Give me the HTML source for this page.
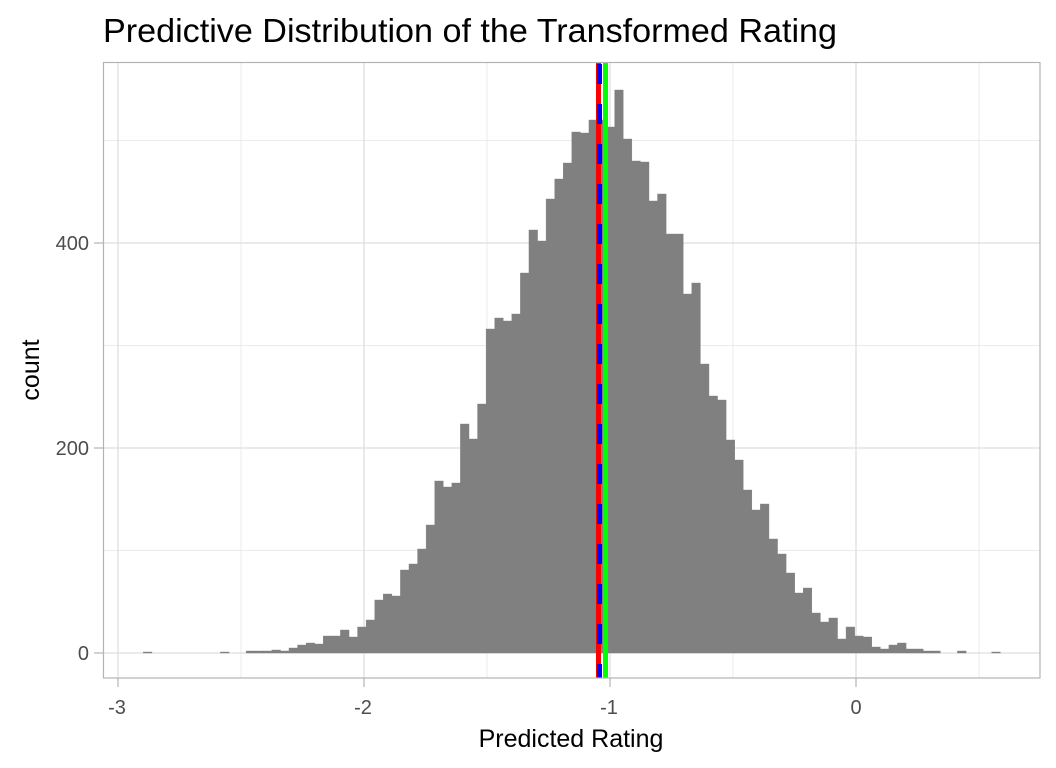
<!DOCTYPE html>
<html><head><meta charset="utf-8"><style>
html,body{margin:0;padding:0;background:#fff;}
svg{display:block;font-family:"Liberation Sans",Arial,sans-serif;}
</style></head><body>
<svg width="1056" height="768" viewBox="0 0 1056 768" xmlns="http://www.w3.org/2000/svg">
<rect width="1056" height="768" fill="#fff"/>
<text x="103" y="42" font-size="33" fill="#000" textLength="734" lengthAdjust="spacingAndGlyphs">Predictive Distribution of the Transformed Rating</text>
<g stroke="#ebebeb" stroke-width="1">
<line x1="103" x2="1040" y1="550.5" y2="550.5"/><line x1="103" x2="1040" y1="345.5" y2="345.5"/><line x1="103" x2="1040" y1="140.5" y2="140.5"/>
<line x1="241" x2="241" y1="62" y2="678"/><line x1="487" x2="487" y1="62" y2="678"/><line x1="733" x2="733" y1="62" y2="678"/><line x1="979" x2="979" y1="62" y2="678"/>
</g>
<g stroke="#dedede" stroke-width="1.3">
<line x1="103" x2="1040" y1="653" y2="653"/><line x1="103" x2="1040" y1="448" y2="448"/><line x1="103" x2="1040" y1="243" y2="243"/>
<line x1="118" x2="118" y1="62" y2="678"/><line x1="364" x2="364" y1="62" y2="678"/><line x1="610" x2="610" y1="62" y2="678"/><line x1="856" x2="856" y1="62" y2="678"/>
</g>
<g id="bars" fill="#808080" stroke="#808080" stroke-width="0.4"></g>
<line x1="598.5" x2="598.5" y1="62" y2="678" stroke="#ff0000" stroke-width="5"/>
<line x1="599.5" x2="599.5" y1="62" y2="678" stroke="#0000ff" stroke-width="5" stroke-dasharray="20 20" stroke-dashoffset="-2"/>
<line x1="605.5" x2="605.5" y1="62" y2="678" stroke="#00ff00" stroke-width="5"/>
<rect x="103.5" y="62.5" width="936.5" height="615.5" fill="none" stroke="#b3b3b3" stroke-width="1.2"/>
<g stroke="#b3b3b3" stroke-width="1.2">
<line x1="94" x2="103" y1="653" y2="653"/><line x1="94" x2="103" y1="448" y2="448"/><line x1="94" x2="103" y1="243" y2="243"/>
<line x1="118" x2="118" y1="678" y2="687"/><line x1="364" x2="364" y1="678" y2="687"/><line x1="610" x2="610" y1="678" y2="687"/><line x1="856" x2="856" y1="678" y2="687"/>
</g>
<g font-size="20" fill="#4d4d4d">
<text x="89" y="660" text-anchor="end">0</text>
<text x="89" y="455" text-anchor="end">200</text>
<text x="89" y="250" text-anchor="end">400</text>
<text x="117" y="714" text-anchor="middle">-3</text>
<text x="363" y="714" text-anchor="middle">-2</text>
<text x="609" y="714" text-anchor="middle">-1</text>
<text x="856" y="714" text-anchor="middle">0</text>
</g>
<text x="571" y="747" font-size="25" text-anchor="middle" fill="#000">Predicted Rating</text>
<text transform="translate(39,370) rotate(-90)" font-size="25" text-anchor="middle" fill="#000">count</text>
<script>
(function(){
var tops={"-17":652,"-8":652,"-5":651,"-4":651,"-3":651,"-2":650,"-1":651,
0:648,1:645,2:643,3:644,4:636,5:636,6:630,7:637,8:627,9:620,10:600,11:594,12:596,13:570,14:564,15:549,16:525,17:481,18:487,19:483,20:424,21:439,22:404,23:329,24:318,25:321,26:314,27:273,28:230,29:241,30:199,31:179,32:163,33:132,34:133,35:120,36:120,37:127,38:90,39:139,40:161,41:162,42:201,43:194,44:234,45:234,46:294,47:283,48:364,49:396,50:400,51:440,52:460,53:490,54:510,55:504,56:539,57:554,58:573,59:593,60:588,61:613,62:622,63:618,64:639,65:627,66:636,67:637,68:647,69:649,70:645,71:643,72:649,73:649,74:651,75:651,78:651,82:652};
var g=document.getElementById('bars'),ns='http://www.w3.org/2000/svg';
for(var k in tops){var i=+k,x=289+8.57*i,t=tops[k];var r=document.createElementNS(ns,'rect');
r.setAttribute('x',x.toFixed(2));r.setAttribute('y',t);r.setAttribute('width','8.62');r.setAttribute('height',(653-t));g.appendChild(r);}
})();
</script>
</svg>
</body></html>
